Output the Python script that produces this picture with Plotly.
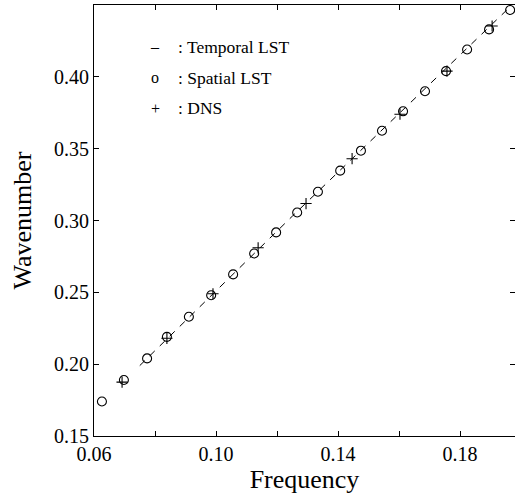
import plotly.graph_objects as go

# Spatial LST (circles)
spatial_freq = [0.0626, 0.0698, 0.0774, 0.0839, 0.0911, 0.0984, 0.1056, 0.1125, 0.1197, 0.1266,
                0.1334, 0.1407, 0.1475, 0.1544, 0.1613, 0.1685, 0.1754, 0.1823, 0.1895, 0.1964]
spatial_wn = [0.174, 0.189, 0.204, 0.219, 0.233, 0.248, 0.2625, 0.277, 0.2917, 0.3056,
              0.320, 0.3347, 0.3486, 0.3625, 0.376, 0.390, 0.404, 0.419, 0.433, 0.4465]

# DNS (plus)
dns_freq = [0.0692, 0.0839, 0.0990, 0.1138, 0.1295, 0.1446, 0.1603, 0.1757, 0.1905]
dns_wn = [0.1875, 0.218, 0.249, 0.281, 0.3118, 0.343, 0.374, 0.404, 0.4354]

# Temporal LST (dashed line)
temporal_freq = [0.075, 0.100, 0.125, 0.150, 0.175, 0.198]
temporal_wn = [0.199, 0.251, 0.303, 0.354, 0.405, 0.452]

x_tickvals = [0.06, 0.08, 0.10, 0.12, 0.14, 0.16, 0.18]
x_ticktext = ["0.06", "", "0.10", "", "0.14", "", "0.18"]
y_tickvals = [0.15, 0.20, 0.25, 0.30, 0.35, 0.40]
y_ticktext = ["0.15", "0.20", "0.25", "0.30", "0.35", "0.40"]

legend_symbols = ["\u2013", "o", "+"]
legend_labels = [": Temporal LST", ": Spatial LST", ": DNS"]

FONT = "Liberation Serif, Times New Roman, serif"

fig = go.Figure()
fig.add_trace(go.Scatter(x=temporal_freq, y=temporal_wn, mode="lines",
                         line=dict(color="black", width=1, dash="7px,7px"),
                         name="Temporal LST", showlegend=False))
fig.add_trace(go.Scatter(x=spatial_freq, y=spatial_wn, mode="markers",
                         marker=dict(symbol="circle-open", size=9, color="black",
                                     line=dict(color="black", width=1.1)),
                         name="Spatial LST", showlegend=False))
fig.add_trace(go.Scatter(x=dns_freq, y=dns_wn, mode="markers",
                         marker=dict(symbol="cross-thin", size=8, color="black",
                                     line=dict(color="black", width=1.1)),
                         name="DNS", showlegend=False))

ys = [0.903, 0.831, 0.761]
for sym, lab, yy in zip(legend_symbols, legend_labels, ys):
    fig.add_annotation(xref="paper", yref="paper", x=0.145, y=yy, text=sym,
                       showarrow=False, xanchor="center", yanchor="middle",
                       font=dict(family=FONT, size=16, color="black"))
    fig.add_annotation(xref="paper", yref="paper", x=0.195, y=yy, text=lab,
                       showarrow=False, xanchor="left", yanchor="middle",
                       font=dict(family=FONT, size=17.5, color="black"))

axis_common = dict(showgrid=False, zeroline=False, showline=True, linecolor="black",
                   linewidth=1.2, ticks="inside", ticklen=5, tickcolor="black",
                   tickwidth=1, mirror="ticks",
                   tickfont=dict(family=FONT, size=20, color="black"))

fig.update_xaxes(range=[0.06, 0.198], tickvals=x_tickvals, ticktext=x_ticktext,
                 title=dict(text="Frequency", font=dict(family=FONT, size=26, color="black"),
                            standoff=2),
                 **axis_common)
fig.update_yaxes(range=[0.15, 0.45], tickvals=y_tickvals, ticktext=y_ticktext,
                 title=dict(text="Wavenumber", font=dict(family=FONT, size=26, color="black"),
                            standoff=14),
                 **axis_common)

fig.update_layout(width=515, height=500, plot_bgcolor="white", paper_bgcolor="white",
                  margin=dict(l=94, r=0, t=5, b=64), showlegend=False)

fig.write_html("out.html")
